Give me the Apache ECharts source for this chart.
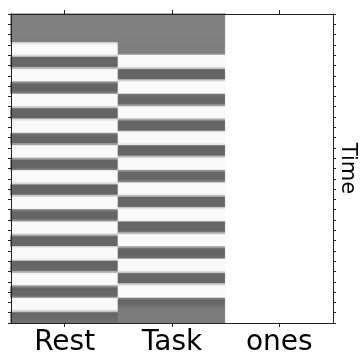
<!DOCTYPE html>
<html>
<head>
<meta charset="utf-8">
<script src="https://cdn.jsdelivr.net/npm/echarts@6/dist/echarts.min.js"></script>
<style>
  html, body { margin: 0; padding: 0; background: #fff; }
  #dm { width: 361px; height: 354px; }
</style>
</head>
<body>
<div id="dm"></div>
<script>
// design matrix columns
const regressors = ['Rest', 'Task', 'ones']

// one value per scan, top to bottom
const rest = [
  0, 0, 0, 0, 0, 0, 0, 0, 0, 0, 0, 0, 0, 0,
  0.8, 0.96, 0.96, 0.96, 0.96, 0.96, 0.7,
  -0.2, -0.2, -0.2, -0.2, -0.2,
  0.45, 0.96, 0.96, 0.96, 0.96, 0.96, 0.96, 0.1,
  -0.2, -0.2, -0.2, -0.2,
  0, 0.96, 0.96, 0.96, 0.96, 0.96, 0.96, 0.56,
  -0.2, -0.2, -0.2, -0.2, -0.2,
  0.74, 0.96, 0.96, 0.96, 0.96, 0.96, 0.96, -0.1,
  -0.2, -0.2, -0.2, -0.2,
  0.28, 0.96, 0.96, 0.96, 0.96, 0.96, 0.96, 0.27,
  -0.2, -0.2, -0.2, -0.2,
  -0.12, 0.96, 0.96, 0.96, 0.96, 0.96, 0.96, 0.72,
  -0.2, -0.2, -0.2, -0.2, -0.2,
  0.58, 0.96, 0.96, 0.96, 0.96, 0.96, 0.96, -0.03,
  -0.2, -0.2, -0.2, -0.2,
  0.12, 0.96, 0.96, 0.96, 0.96, 0.96, 0.96, 0.42,
  -0.2, -0.2, -0.2, -0.2, -0.2,
  0.85, 0.96, 0.96, 0.96, 0.96, 0.96, 0.85,
  -0.2, -0.2, -0.2, -0.2, -0.2,
  0.41, 0.96, 0.96, 0.96, 0.96, 0.96, 0.96, 0.14,
  -0.2, -0.2, -0.2, -0.2,
  -0.04, 0.96, 0.96, 0.96, 0.96, 0.96, 0.96, 0.59,
  -0.2, -0.2, -0.18, -0.15, -0.12
]

const task = [
  0, 0, 0, 0, 0, 0, 0, 0, 0, 0, 0, 0, 0, 0, 0, 0, 0, 0, 0,
  0.1, 0.96, 0.96, 0.96, 0.96, 0.96, 0.96, 0.64,
  -0.2, -0.2, -0.2, -0.2, -0.2,
  0.66, 0.96, 0.96, 0.96, 0.96, 0.96, 0.96, -0.1,
  -0.2, -0.2, -0.2, -0.2,
  0.21, 0.96, 0.96, 0.96, 0.96, 0.96, 0.96, 0.35,
  -0.2, -0.2, -0.2, -0.2, -0.2,
  0.9, 0.96, 0.96, 0.96, 0.96, 0.96, 0.81,
  -0.2, -0.2, -0.2, -0.2, -0.2,
  0.5, 0.96, 0.96, 0.96, 0.96, 0.96, 0.96, 0.06,
  -0.2, -0.2, -0.2, -0.2,
  0.04, 0.96, 0.96, 0.96, 0.96, 0.96, 0.96, 0.52,
  -0.2, -0.2, -0.2, -0.2, -0.2,
  0.8, 0.96, 0.96, 0.96, 0.96, 0.96, 0.9,
  -0.2, -0.2, -0.2, -0.2, -0.2,
  0.34, 0.96, 0.96, 0.96, 0.96, 0.96, 0.96, 0.23,
  -0.2, -0.2, -0.2, -0.2,
  -0.12, 0.96, 0.96, 0.96, 0.96, 0.96, 0.96, 0.69,
  -0.2, -0.2, -0.2, -0.2, -0.2,
  0.63, 0.96, 0.96, 0.96, 0.96, 0.96, 0.96, -0.06,
  -0.2, -0.2, -0.15,
  -0.08, -0.05, -0.03, -0.03, -0.03, -0.03, -0.03, -0.03
]

const ones = [
  1, 1, 1, 1, 1, 1, 1, 1, 1, 1,
  1, 1, 1, 1, 1, 1, 1, 1, 1, 1,
  1, 1, 1, 1, 1, 1, 1, 1, 1, 1,
  1, 1, 1, 1, 1, 1, 1, 1, 1, 1,
  1, 1, 1, 1, 1, 1, 1, 1, 1, 1,
  1, 1, 1, 1, 1, 1, 1, 1, 1, 1,
  1, 1, 1, 1, 1, 1, 1, 1, 1, 1,
  1, 1, 1, 1, 1, 1, 1, 1, 1, 1,
  1, 1, 1, 1, 1, 1, 1, 1, 1, 1,
  1, 1, 1, 1, 1, 1, 1, 1, 1, 1,
  1, 1, 1, 1, 1, 1, 1, 1, 1, 1,
  1, 1, 1, 1, 1, 1, 1, 1, 1, 1,
  1, 1, 1, 1, 1, 1, 1, 1, 1, 1,
  1, 1, 1, 1, 1, 1, 1, 1, 1, 1,
  1, 1, 1, 1, 1, 1, 1, 1, 1, 1
]

const scans = rest.map((_, i) => String(i))

// same grey ramp as the visualMap, used for a thin border so rows don't show seams
function grey(v) {
  const g = Math.round(Math.max(0, Math.min(1, (v + 1) / 2)) * 255)
  return 'rgb(' + g + ',' + g + ',' + g + ')'
}

const cells = []
;[rest, task, ones].forEach((col, x) => {
  col.forEach((v, y) => cells.push({
    value: [x, y, v],
    itemStyle: { borderColor: grey(v), borderWidth: 0.6 }
  }))
})

const chart = echarts.init(document.getElementById('dm'), null, { renderer: 'canvas' })

const font = 'DejaVu Sans'
const axisCol = '#222'

const option = {
  animation: false,
  grid: { left: 11, right: 28, top: 14, bottom: 31, containLabel: false, outerBoundsMode: 'none' },
  visualMap: {
    show: false,
    type: 'continuous',
    min: -1,
    max: 1,
    dimension: 2,
    inRange: { color: ['#000000', '#ffffff'] }
  },
  xAxis: [
    {
      type: 'category',
      data: regressors,
      position: 'bottom',
      z: 10,
      axisLine: { show: true, lineStyle: { color: axisCol, width: 1 } },
      axisTick: { show: true, inside: false, alignWithLabel: true, length: 4, lineStyle: { color: axisCol, width: 1 } },
      axisLabel: { color: '#000', fontFamily: font, fontSize: 28, margin: 6 },
      splitLine: { show: false }
    },
    {
      type: 'category',
      data: regressors,
      position: 'top',
      z: 10,
      axisLine: { show: true, lineStyle: { color: axisCol, width: 1 } },
      axisTick: { show: true, inside: false, alignWithLabel: true, length: 4, lineStyle: { color: axisCol, width: 1 } },
      axisLabel: { show: false },
      splitLine: { show: false }
    }
  ],
  yAxis: [
    {
      type: 'category',
      data: scans,
      inverse: true,
      position: 'left',
      z: 10,
      axisLine: { show: true, lineStyle: { color: axisCol, width: 1 } },
      axisTick: { show: true, inside: false, interval: 4, length: 3, lineStyle: { color: axisCol, width: 1 } },
      axisLabel: { show: false },
      splitLine: { show: false }
    },
    {
      type: 'category',
      data: scans,
      inverse: true,
      position: 'right',
      z: 10,
      name: 'Time',
      nameLocation: 'middle',
      nameRotate: -90,
      nameGap: 4,
      nameTextStyle: { color: '#000', fontFamily: font, fontSize: 21 },
      axisLine: { show: true, lineStyle: { color: axisCol, width: 1 } },
      axisTick: { show: true, inside: false, interval: 4, length: 3, lineStyle: { color: axisCol, width: 1 } },
      axisLabel: { show: false },
      splitLine: { show: false }
    }
  ],
  series: [
    {
      type: 'heatmap',
      xAxisIndex: 0,
      yAxisIndex: 0,
      data: cells,
      emphasis: { disabled: true }
    }
  ]
}

chart.setOption(option)
</script>
</body>
</html>
